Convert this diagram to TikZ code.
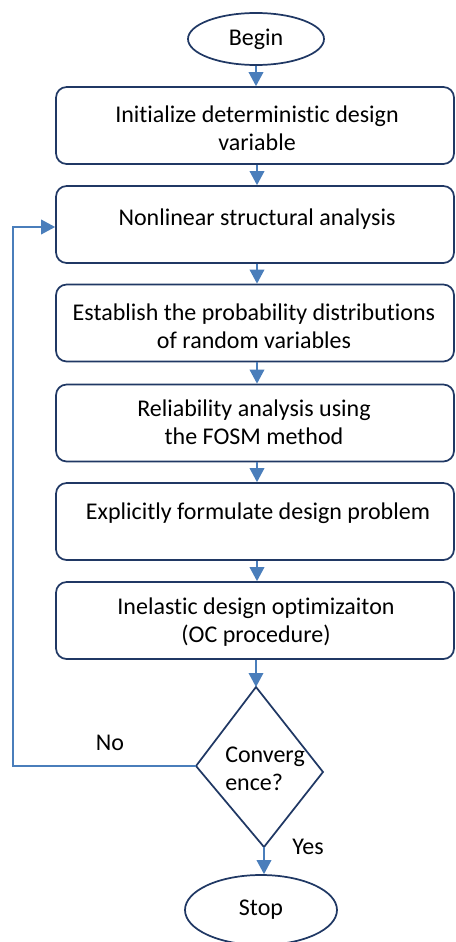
\documentclass[tikz,border=0pt]{standalone}
\usepackage{fontspec}
\setmainfont{Carlito}[Ligatures=NoCommon]
\usetikzlibrary{arrows.meta,shapes.geometric}
\definecolor{navy}{RGB}{32,56,100}
\definecolor{arrblue}{RGB}{74,126,187}
\begin{document}
\begin{tikzpicture}[x=0.75pt,y=-0.75pt,
  font=\fontsize{18}{21}\selectfont,
  box/.style={draw=navy,line width=1.3pt,rounded corners=8pt,minimum width=298.5pt,minimum height=57.75pt,inner sep=0pt},
  oval/.style={draw=navy,line width=1.3pt,ellipse,inner sep=0pt},
  txt/.style={align=center,inner sep=0pt},
  conn/.style={draw=arrblue,line width=1pt,-{Triangle[width=11pt,length=10.5pt]}},
  flow/.style={draw=arrblue,line width=1pt}]
\useasboundingbox (0,0) rectangle (455,942);
\begin{scope}
\clip (0,0) rectangle (455,942);
% start
\node[oval,minimum width=102pt,minimum height=39pt] (begin) at (256,39) {Begin};
% boxes
\node[box] (b1) at (255,125.5) {};
\node[box] (b2) at (255,224.5) {};
\node[box] (b3) at (255,323) {};
\node[box] (b4) at (255,423) {};
\node[box] (b5) at (255,521.5) {};
\node[box] (b6) at (255,620.5) {};
\node[txt] (t1) at (257,128) {Initialize deterministic design\\variable};
\node[txt] (t2) at (257,219) {Nonlinear structural analysis};
\node[txt] (t3) at (254,326) {Establish the probability distributions\\of random variables};
\node[txt] (t4) at (254,422) {Reliability analysis using\\the FOSM method};
\node[txt] (t5) at (258,513) {Explicitly formulate design problem};
\node[txt] (t6) at (256,622) {Inelastic design optimizaiton\\(OC procedure)};
% decision
\coordinate (dtop) at (256,687);
\coordinate (dright) at (323,772);
\coordinate (dbot) at (264,847);
\coordinate (dleft) at (196,766);
\draw[navy,line width=1.3pt,line join=miter] (dtop) -- (dright) -- (dbot) -- (dleft) -- cycle;
\node[align=left,anchor=west,inner sep=0pt] (dt) at (225,769) {Converg\\ence?};
% stop
\node[oval,minimum width=114pt,minimum height=52.5pt] (stop) at (261,910) {Stop};
% connectors
\draw[conn] (begin.south) -- (b1.north -| begin.south);
\draw[conn] (b1.south -| 257,0) -- (b2.north -| 257,0);
\draw[conn] (b2.south -| 257,0) -- (b3.north -| 257,0);
\draw[conn] (b3.south -| 257,0) -- (b4.north -| 257,0);
\draw[conn] (b4.south -| 257,0) -- (b5.north -| 257,0);
\draw[conn] (b5.south -| 257,0) -- (b6.north -| 257,0);
\draw[conn] (b6.south -| dtop) -- (dtop);
\draw[conn] (dbot) -- (stop.north -| dbot);
\coordinate (lc1) at (13,766);
\coordinate (lc2) at (13,227);
\draw[conn] (dleft) -- (lc1) -- (lc2) -- (lc2 -| b2.west);
\node[inner sep=0pt] (no) at (110,743) {No};
\node[inner sep=0pt] (yes) at (308,847) {Yes};
\end{scope}
\end{tikzpicture}
\end{document}
